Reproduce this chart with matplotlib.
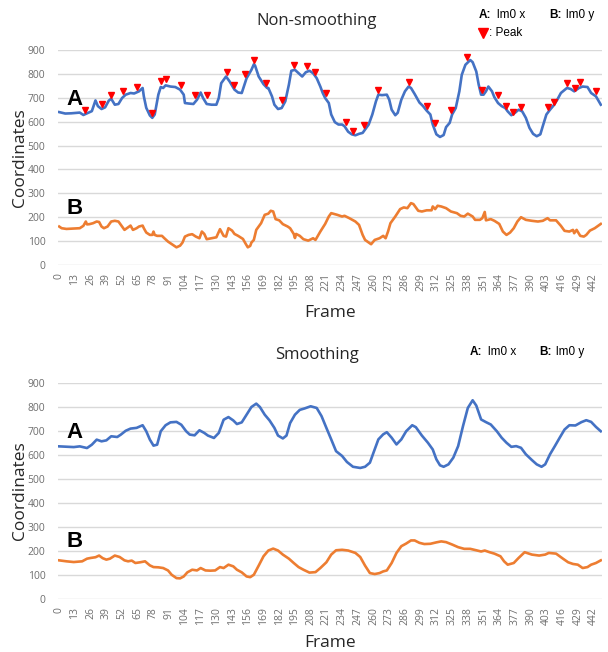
"""
Landmark-0 coordinates per frame, raw vs. smoothed, with detected peaks.
Writes out.png (608x652).
"""

import matplotlib
matplotlib.use("Agg")
import matplotlib.pyplot as plt
from matplotlib.lines import Line2D

W, H = 608, 652
BLUE = "#4472C4"
ORANGE = "#ED7D31"
GRID = "#D9D9D9"
TICK = "#6E6E6E"
TXT = "#262626"
UI_FONT = ["Open Sans", "DejaVu Sans"]
ARIAL = ["Liberation Sans", "DejaVu Sans"]

# ── data ──────────────────────────────────────────────────────────────────
frame_ticks = [0, 13, 26, 39, 52, 65, 78, 91, 104, 117, 130, 143, 156, 169,
               182, 195, 208, 221, 234, 247, 260, 273, 286, 299, 312, 325,
               338, 351, 364, 377, 390, 403, 416, 429, 442]
y_ticks = [0, 100, 200, 300, 400, 500, 600, 700, 800, 900]

raw_x_frames = [0, 5, 10, 17, 20, 24, 27, 30, 32, 35, 38, 41, 43, 46, 49, 52,
                55, 59, 62, 66, 69, 70, 72, 75, 77, 79, 82, 84, 86, 88, 92, 96,
                100, 103, 104, 107, 111, 114, 117, 119, 122, 126, 130, 132,
                134, 138, 141, 145, 148, 151, 155, 159, 161, 162, 165, 169,
                172, 173, 176, 178, 181, 184, 187, 190, 192, 195, 198, 201,
                204, 207, 210, 213, 216, 218, 220, 223, 225, 228, 231, 234,
                236, 239, 242, 245, 248, 251, 253, 256, 259, 262, 264, 267,
                271, 273, 275, 278, 280, 283, 286, 289, 291, 294, 298, 301,
                304, 307, 309, 312, 315, 318, 320, 323, 325, 328, 331, 333,
                336, 340, 342, 345, 347, 349, 351, 353, 355, 358, 360, 363,
                366, 369, 371, 374, 377, 380, 383, 386, 389, 392, 395, 398,
                400, 403, 406, 409, 412, 415, 420, 423, 426, 430, 433, 437,
                440, 444, 448]
raw_x_vals = [640, 634, 635, 638, 628, 637, 644, 689, 665, 653, 660, 688, 696,
              671, 674, 699, 713, 720, 718, 727, 741, 706, 658, 626, 616, 630,
              713, 745, 741, 752, 747, 745, 734, 713, 678, 676, 674, 692, 722,
              699, 674, 671, 671, 699, 761, 789, 768, 734, 722, 720, 782, 817,
              840, 835, 789, 757, 741, 741, 706, 671, 653, 657, 685, 755, 813,
              817, 803, 789, 807, 813, 803, 782, 747, 720, 699, 678, 630, 598,
              588, 588, 581, 558, 547, 543, 549, 553, 567, 588, 630, 685, 713,
              711, 713, 692, 650, 627, 637, 692, 727, 747, 741, 716, 680, 665,
              646, 630, 588, 547, 536, 544, 577, 595, 630, 657, 727, 796, 838,
              858, 849, 810, 755, 713, 713, 727, 747, 727, 702, 678, 665, 657,
              643, 627, 637, 650, 643, 616, 574, 549, 539, 547, 581, 630, 650,
              668, 692, 720, 741, 737, 727, 741, 747, 745, 720, 706, 671]

raw_y_frames = [0, 2, 6, 17, 20, 22, 23, 25, 28, 31, 33, 35, 37, 40, 43, 46,
                49, 51, 54, 56, 59, 61, 64, 66, 69, 70, 72, 75, 77, 78, 79, 81,
                85, 87, 90, 94, 97, 100, 102, 104, 107, 110, 113, 116, 118,
                120, 122, 126, 130, 133, 136, 138, 140, 143, 145, 148, 152,
                154, 156, 158, 159, 161, 163, 167, 170, 173, 175, 177, 179,
                182, 185, 189, 191, 194, 195, 196, 199, 202, 206, 210, 212,
                216, 220, 223, 225, 230, 234, 236, 240, 245, 248, 251, 253,
                256, 258, 261, 265, 268, 270, 272, 274, 278, 282, 285, 288,
                291, 293, 297, 300, 304, 308, 309, 311, 313, 316, 320, 324,
                329, 332, 335, 338, 342, 344, 348, 350, 352, 353, 357, 360,
                364, 367, 370, 373, 376, 379, 382, 386, 391, 396, 400, 404,
                406, 411, 415, 418, 422, 425, 426, 428, 431, 434, 436, 439,
                443, 448]
raw_y_vals = [161, 154, 151, 154, 164, 182, 170, 171, 175, 182, 180, 161, 154,
              161, 182, 185, 182, 168, 147, 154, 165, 147, 154, 161, 165, 154,
              136, 126, 126, 140, 126, 122, 122, 112, 98, 84, 74, 81, 94, 119,
              126, 129, 119, 112, 140, 130, 108, 112, 116, 150, 122, 119, 154,
              144, 130, 122, 109, 91, 74, 80, 94, 105, 147, 175, 210, 215, 227,
              224, 192, 187, 171, 161, 154, 130, 113, 130, 122, 108, 102, 112,
              105, 140, 172, 203, 217, 210, 203, 206, 196, 182, 168, 126, 105,
              94, 87, 105, 112, 122, 112, 140, 175, 203, 234, 241, 238, 259,
              255, 227, 224, 229, 229, 245, 234, 248, 245, 238, 224, 217, 206,
              203, 215, 203, 189, 189, 196, 222, 187, 192, 185, 172, 140, 126,
              136, 154, 182, 200, 189, 185, 182, 185, 196, 187, 187, 164, 143,
              140, 147, 133, 147, 122, 119, 126, 144, 154, 172]

peak_frames = [21, 35, 43, 53, 64, 77, 84, 88, 101, 112, 122, 139, 145, 154,
               161, 171, 184, 194, 205, 212, 221, 237, 243, 252, 264, 289, 304,
               311, 324, 337, 350, 363, 370, 375, 382, 404, 409, 420, 427, 431,
               444]
peak_vals = [650, 675, 713, 727, 747, 636, 771, 777, 752, 710, 710, 807, 754,
             800, 858, 760, 689, 838, 835, 810, 720, 600, 560, 584, 731, 766,
             665, 596, 650, 869, 734, 710, 667, 640, 661, 660, 682, 761, 743,
             768, 727]

smooth_x_frames = [0, 12, 17, 23, 27, 31, 35, 39, 43, 48, 51, 55, 59, 64, 69,
                   72, 75, 78, 81, 84, 88, 92, 97, 101, 105, 108, 112, 116,
                   120, 123, 128, 132, 136, 140, 144, 147, 151, 155, 159, 163,
                   166, 170, 174, 178, 181, 185, 188, 191, 195, 199, 203, 208,
                   213, 217, 221, 225, 229, 234, 238, 243, 249, 253, 257, 260,
                   264, 268, 271, 275, 279, 283, 287, 292, 295, 300, 305, 309,
                   312, 315, 318, 322, 326, 330, 334, 338, 342, 345, 349, 353,
                   357, 362, 366, 370, 374, 378, 382, 386, 391, 395, 399, 402,
                   406, 410, 414, 418, 422, 427, 432, 436, 440, 444, 448]
smooth_x_vals = [636, 633, 636, 629, 643, 664, 657, 661, 678, 675, 685, 701,
                 710, 713, 724, 699, 664, 639, 643, 699, 724, 736, 738, 726,
                 699, 685, 682, 703, 692, 681, 671, 692, 747, 758, 744, 729,
                 736, 768, 800, 814, 800, 768, 744, 713, 681, 669, 681, 733,
                 768, 788, 794, 803, 796, 762, 713, 665, 616, 596, 571, 551,
                 546, 551, 568, 610, 665, 686, 695, 672, 644, 665, 699, 724,
                 716, 681, 651, 623, 582, 557, 551, 561, 589, 637, 720, 796,
                 828, 806, 748, 737, 727, 699, 672, 651, 634, 637, 630, 603,
                 579, 561, 551, 561, 603, 637, 672, 706, 724, 723, 737, 745,
                 738, 717, 699]

smooth_y_frames = [0, 6, 12, 19, 23, 26, 30, 33, 36, 39, 42, 46, 50, 54, 57,
                   60, 63, 67, 71, 75, 78, 82, 86, 90, 93, 97, 100, 103, 106,
                   110, 114, 117, 121, 125, 129, 133, 136, 140, 144, 147, 151,
                   155, 158, 161, 165, 169, 173, 177, 181, 185, 190, 194, 198,
                   202, 207, 212, 216, 221, 225, 229, 234, 239, 245, 249, 253,
                   257, 261, 265, 268, 271, 275, 279, 283, 287, 291, 294, 298,
                   302, 307, 312, 316, 320, 325, 330, 335, 340, 345, 349, 352,
                   356, 360, 365, 368, 371, 376, 380, 385, 391, 397, 402, 405,
                   411, 417, 421, 425, 429, 433, 437, 440, 444, 448]
smooth_y_vals = [161, 157, 154, 157, 168, 171, 174, 181, 170, 164, 168, 181,
                 175, 161, 157, 160, 150, 153, 157, 140, 133, 132, 129, 119,
                 101, 87, 86, 94, 111, 122, 119, 129, 119, 118, 119, 133, 129,
                 143, 136, 122, 111, 94, 91, 101, 139, 178, 202, 210, 202, 185,
                 168, 150, 133, 122, 110, 112, 129, 153, 185, 203, 205, 202,
                 192, 175, 139, 108, 104, 108, 115, 119, 150, 192, 220, 231,
                 244, 244, 234, 229, 230, 236, 240, 237, 227, 216, 209, 209,
                 203, 198, 202, 195, 189, 178, 157, 143, 150, 171, 195, 185,
                 181, 185, 192, 189, 167, 153, 146, 143, 129, 133, 143, 150,
                 161]


def px(x, y):
    """Pixel position in the 608x652 canvas -> figure fraction."""
    return x / W, 1 - y / H


def legend_row(fig, y, xa, xb, peak=False):
    fig.text(*px(xa, y), "A:", fontsize=8.5, fontweight="bold",
             family=ARIAL, color="black", va="center", ha="left")
    fig.text(*px(xa + 18, y), "lm0 x", fontsize=8.5, family=ARIAL,
             color="black", va="center", ha="left")
    fig.text(*px(xb, y), "B:", fontsize=8.5, fontweight="bold",
             family=ARIAL, color="black", va="center", ha="left")
    fig.text(*px(xb + 17, y), "lm0 y", fontsize=8.5, family=ARIAL,
             color="black", va="center", ha="left")
    if peak:
        fx, fy = px(xa + 4, y + 18)
        fig.add_artist(Line2D([fx], [fy], marker="v", markersize=7.5,
                              color="red", linestyle="none",
                              transform=fig.transFigure))
        fig.text(*px(xa + 10, y + 18), ": Peak", fontsize=8.5, family=ARIAL,
                 color="black", va="center", ha="left")


def draw_panel(fig, top, bottom, title, title_y, xa_f, xa_v, yb_f, yb_v,
               peaks=None):
    left, right = 58, 602
    x0, y0 = px(left, bottom)
    ax = fig.add_axes([x0, y0, (right - left) / W, (bottom - top) / H])

    ax.plot(xa_f, xa_v, color=BLUE, linewidth=1.9, solid_joinstyle="round")
    ax.plot(yb_f, yb_v, color=ORANGE, linewidth=1.9, solid_joinstyle="round")
    if peaks is not None:
        ax.plot(peaks[0], peaks[1], linestyle="none", marker="v",
                markersize=3.8, color="red")

    ax.set_xlim(-1, 449)
    ax.set_ylim(0, 900)
    ax.set_yticks(y_ticks)
    ax.set_xticks(frame_ticks)
    ax.set_xticklabels([str(t) for t in frame_ticks], rotation=90)
    ax.tick_params(axis="both", length=0, labelsize=7.5, labelcolor=TICK)
    ax.tick_params(axis="y", pad=9)
    ax.tick_params(axis="x", pad=6)
    for lab in ax.get_xticklabels() + ax.get_yticklabels():
        lab.set_family(UI_FONT)

    ax.yaxis.grid(True, color=GRID, linewidth=1.0)
    ax.set_axisbelow(True)
    for side in ax.spines.values():
        side.set_visible(False)

    ax.text(0.031, 0.77, "A", transform=ax.transAxes, fontsize=16,
            fontweight="bold", family=ARIAL, ha="center", va="center")
    ax.text(0.031, 0.265, "B", transform=ax.transAxes, fontsize=16,
            fontweight="bold", family=ARIAL, ha="center", va="center")

    fig.text(*px(317, title_y), title, fontsize=12, family=UI_FONT,
             color=TXT, ha="center", va="center")
    fig.text(*px(20, (top + bottom) / 2), "Coordinates", fontsize=12.5,
             family=UI_FONT, color=TXT, rotation=90, ha="center",
             va="center")
    fig.text(*px(330, min(bottom + 56, H - 1)), "Frame", fontsize=12.5,
             family=UI_FONT, color=TXT, ha="center", va="bottom")
    return ax


def main():
    fig = plt.figure(figsize=(W / 100, H / 100), dpi=100)

    draw_panel(fig, 50, 265, "Non-smoothing", 21,
               raw_x_frames, raw_x_vals, raw_y_frames, raw_y_vals,
               peaks=(peak_frames, peak_vals))
    legend_row(fig, 15, 479, 549, peak=True)

    draw_panel(fig, 383, 599, "Smoothing", 355,
               smooth_x_frames, smooth_x_vals, smooth_y_frames, smooth_y_vals)
    legend_row(fig, 352, 470, 539)

    fig.savefig("out.png", dpi=100)
    plt.close(fig)


if __name__ == "__main__":
    main()
